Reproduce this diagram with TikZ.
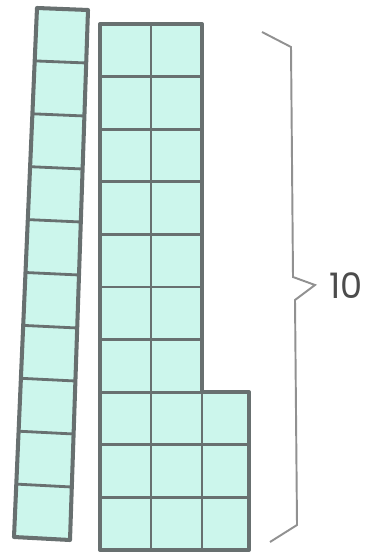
\documentclass[tikz,border=0pt]{standalone}
\usepackage{fontspec}
\setmainfont{Poppins}
\usetikzlibrary{calc}
\definecolor{TileFill}{RGB}{204,246,236}
\definecolor{TileEdge}{RGB}{104,112,112}
\definecolor{BraceGray}{RGB}{145,145,145}

\begin{document}
\begin{tikzpicture}[x=0.02cm,y=-0.02cm,
        tile/.style={fill=TileFill,draw=none},
        gridline/.style={draw=TileEdge,line width=1.6pt},
        rim/.style={draw=TileEdge,line width=2.3pt,line join=round},
        brace/.style={draw=BraceGray,line width=1.1pt},
        label/.style={font=\fontsize{20}{20}\selectfont,text=black!70,inner sep=0pt}
      ]
        \useasboundingbox (0,0) rectangle (365,553);
        % tilted strip of ten
        \coordinate (stl) at (37,8);
        \coordinate (str) at (88,10);
        \coordinate (sbr) at (70,540);
        \coordinate (sbl) at (14,537);
        \fill[tile] (stl)--(str)--(sbr)--(sbl)--cycle;
        \foreach \i in {1,...,9}
          \draw[gridline] ($(stl)!\i/10!(sbl)$) -- ($(str)!\i/10!(sbr)$);
        \draw[rim] (stl)--(str)--(sbr)--(sbl)--cycle;
        % block of 23
        \coordinate (bnw) at (100,24);
        \coordinate (bne) at (202,24);
        \coordinate (bin) at (202,392);
        \coordinate (bout) at (249,392);
        \coordinate (bse) at (249,550);
        \coordinate (bsw) at (100,550);
        \fill[tile] (bnw)--(bne)--(bin)--(bout)--(bse)--(bsw)--cycle;
        \foreach \i in {1,...,7}
          \draw[gridline] (100,24+\i*52.6) -- (202,24+\i*52.6);
        \foreach \i in {8,9}
          \draw[gridline] (100,24+\i*52.6) -- (249,24+\i*52.6);
        \draw[gridline] (151,24) -- (151,550);
        \draw[gridline] (bin) -- (202,550);
        \draw[rim] (bnw)--(bne)--(bin)--(bout)--(bse)--(bsw)--cycle;
        % brace
        \coordinate (btop) at (262,32);
        \coordinate (bbot) at (270,542);
        \coordinate (btip) at (315,285);
        \draw[brace] (btop)--(291,47)--(293,277)--(btip)
          --(295,300)--(297,525)--(bbot);
        \node[label,anchor=west] (ten) at (329,286) {10};
      \end{tikzpicture}
\end{document}
